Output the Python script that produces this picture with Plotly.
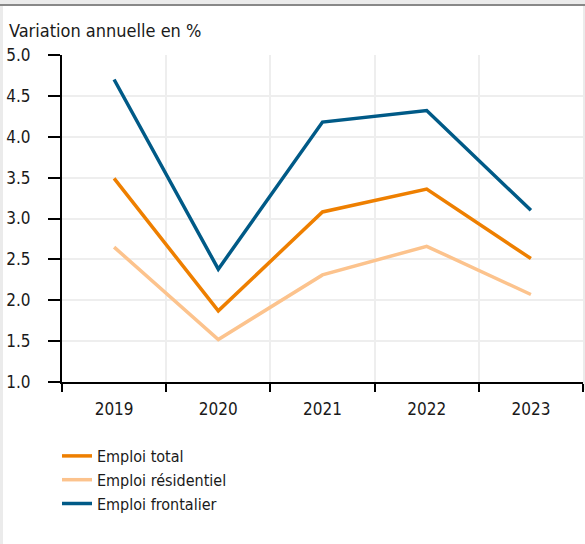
import plotly.graph_objects as go

years = ["2019", "2020", "2021", "2022", "2023"]
emploi_total = [3.49, 1.87, 3.08, 3.36, 2.51]
emploi_residentiel = [2.65, 1.52, 2.31, 2.66, 2.07]
emploi_frontalier = [4.70, 2.38, 4.18, 4.32, 3.10]
y_ticks = [1.0, 1.5, 2.0, 2.5, 3.0, 3.5, 4.0, 4.5, 5.0]

FONT = "DejaVu Sans Condensed, DejaVu Sans, sans-serif"

W, H = 585, 544
L, R, T, B = 62, 2, 55, 162
PW, PH = W - L - R, H - T - B

def px_x(p):
    return (p - L) / PW

def px_y(p):
    return (H - B - p) / PH

fig = go.Figure()
series = [
    ("Emploi total", emploi_total, "#ee7f00"),
    ("Emploi résidentiel", emploi_residentiel, "#fcc38d"),
    ("Emploi frontalier", emploi_frontalier, "#005a87"),
]
for name, vals, col in series:
    fig.add_trace(go.Scatter(x=years, y=vals, name=name, mode="lines",
                             line=dict(color=col, width=3.5)))

fig.update_layout(
    width=W, height=H,
    margin=dict(l=L, r=R, t=T, b=B, autoexpand=False),
    paper_bgcolor="white", plot_bgcolor="white",
    font=dict(family=FONT, size=17, color="#1a1a1a"),
    showlegend=True,
    legend=dict(x=px_x(57), y=px_y(439), xanchor="left", yanchor="top",
                font=dict(size=16), tracegroupgap=0, itemwidth=30,
                bgcolor="rgba(0,0,0,0)"),
    xaxis=dict(type="category", tickson="boundaries", showgrid=True,
               gridcolor="#eeeeee", gridwidth=2, showline=True,
               linecolor="black", linewidth=2, ticks="outside", ticklen=8,
               tickwidth=2, tickcolor="black", ticklabelstandoff=11,
               range=[-0.5, 4.5], zeroline=False, automargin=False),
    yaxis=dict(range=[1.0, 5.0], tickvals=y_ticks,
               ticktext=[f"{v:.1f}" for v in y_ticks], showgrid=True,
               gridcolor="#eeeeee", gridwidth=2, showline=True,
               linecolor="black", linewidth=2, ticks="outside", ticklen=12,
               tickwidth=2, tickcolor="black", zeroline=False,
               ticklabelstandoff=14, automargin=False),
    annotations=[dict(text="Variation annuelle en %", xref="paper", yref="paper",
                      x=px_x(7), y=px_y(43), xanchor="left",
                      yanchor="bottom", showarrow=False,
                      font=dict(size=18, family=FONT, color="#1a1a1a"))],
    shapes=[
        dict(type="rect", xref="paper", yref="paper", x0=px_x(0), x1=px_x(585),
             y0=px_y(5), y1=px_y(0), fillcolor="#ebebeb", line=dict(width=0),
             layer="below"),
        dict(type="line", xref="paper", yref="paper", x0=px_x(0), x1=px_x(585),
             y0=px_y(5), y1=px_y(5), line=dict(color="#888888", width=2)),
        dict(type="rect", xref="paper", yref="paper", x0=px_x(0), x1=px_x(3),
             y0=px_y(544), y1=px_y(5), fillcolor="#ebebeb", line=dict(width=0),
             layer="below"),
        dict(type="rect", xref="paper", yref="paper", x0=px_x(583), x1=px_x(585),
             y0=px_y(390), y1=px_y(5), fillcolor="#ebebeb", line=dict(width=0),
             layer="below"),
    ],
)

fig.write_html("out.html", config={"displayModeBar": False},
               post_script="document.body.style.margin='0';")
